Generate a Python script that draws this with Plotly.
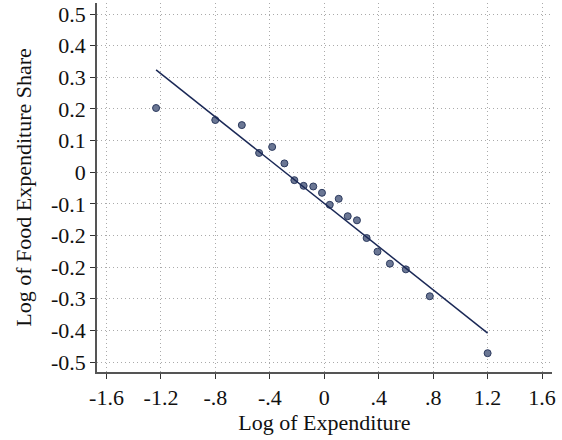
import numpy as np
import plotly.graph_objects as go

# Data (x: log of expenditure, y: position on the share axis)
log_expenditure = [-1.236, -0.801, -0.606, -0.479, -0.383, -0.293, -0.220, -0.152, -0.081, -0.017,
                   0.040, 0.106, 0.172, 0.240, 0.311, 0.391, 0.482, 0.599, 0.775, 1.200]
log_food_share = [0.203, 0.165, 0.149, 0.061, 0.080, 0.028, -0.025, -0.043, -0.045, -0.065,
                  -0.103, -0.084, -0.139, -0.152, -0.208, -0.251, -0.289, -0.307, -0.392, -0.572]

x_tickvals = [-1.6, -1.2, -0.8, -0.4, 0, 0.4, 0.8, 1.2, 1.6]
x_ticktext = ["-1.6", "-1.2", "-.8", "-.4", "0", ".4", ".8", "1.2", "1.6"]
y_tickvals = [0.5, 0.4, 0.3, 0.2, 0.1, 0.0, -0.1, -0.2, -0.3, -0.4, -0.5, -0.6]
y_ticktext = ["0.5", "0.4", "0.3", "0.2", "0.1", "0", "-0.1", "-0.2", "-0.2", "-0.3", "-0.4", "-0.5"]

# Linear fit
xa = np.array(log_expenditure)
ya = np.array(log_food_share)
slope, intercept = np.polyfit(xa, ya, 1)
fit_x = np.array([xa.min(), xa.max()])
fit_y = intercept + slope * fit_x

FONT = "Liberation Serif, Times New Roman, serif"

fig = go.Figure()
fig.add_trace(go.Scatter(
    x=log_expenditure, y=log_food_share, mode="markers",
    marker=dict(size=7, color="#6b7794", line=dict(color="#2c3a5e", width=1)),
    showlegend=False, cliponaxis=False,
))
fig.add_trace(go.Scatter(
    x=fit_x, y=fit_y, mode="lines",
    line=dict(color="#1a2856", width=1.5),
    showlegend=False,
))

fig.update_layout(
    width=562, height=440,
    margin=dict(l=97, r=10, t=3, b=68, autoexpand=False),
    paper_bgcolor="white", plot_bgcolor="white",
    font=dict(family=FONT, size=22, color="#111111"),
)
fig.update_xaxes(
    range=[-1.670, 1.673], automargin=False,
    tickvals=x_tickvals, ticktext=x_ticktext,
    showline=True, linecolor="#555555", linewidth=1.5,
    ticks="outside", ticklen=5, tickcolor="#333333", tickwidth=1.2,
    showgrid=True, gridcolor="#aaaaaa", griddash="1px,3px", gridwidth=1,
    zeroline=False,
    title=dict(text="Log of Expenditure", standoff=0, font=dict(size=22)),
    tickfont=dict(size=22),
)
fig.update_yaxes(
    range=[-0.6315, 0.535], automargin=False,
    tickvals=y_tickvals, ticktext=y_ticktext,
    showline=True, linecolor="#555555", linewidth=1.5,
    ticks="outside", ticklen=5, tickcolor="#333333", tickwidth=1.2,
    showgrid=True, gridcolor="#aaaaaa", griddash="1px,3px", gridwidth=1,
    zeroline=False,
    title=dict(text="Log of Food Expenditure Share", standoff=13, font=dict(size=22)),
    tickfont=dict(size=22),
)

fig.write_html(
    "out.html",
    config={"displayModeBar": False},
    post_script="document.body.style.margin='0px';document.body.style.overflow='hidden';",
)
